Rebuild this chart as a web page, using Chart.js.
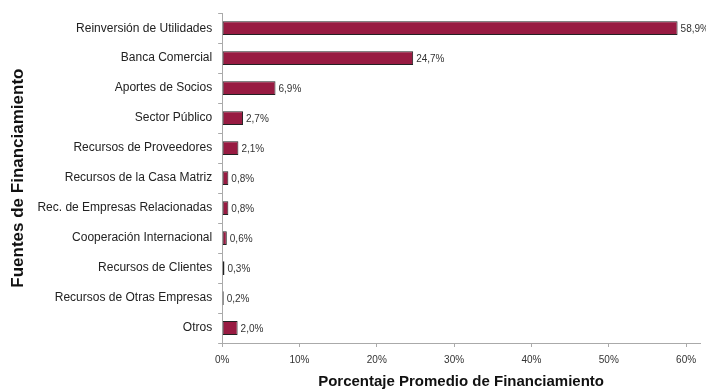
<!DOCTYPE html>
<html>
<head>
<meta charset="utf-8">
<script src="https://cdn.jsdelivr.net/npm/chart.js@4/dist/chart.umd.min.js"></script>
<style>
  html, body { margin: 0; padding: 0; background: #fff; }
  #wrap { width: 706px; height: 389px; }
</style>
</head>
<body>
<div id="wrap"><canvas id="myChart" width="706" height="389"></canvas></div>
<script>
var categories = [
    'Reinversión de Utilidades',
    'Banca Comercial',
    'Aportes de Socios',
    'Sector Público',
    'Recursos de Proveedores',
    'Recursos de la Casa Matriz',
    'Rec. de Empresas Relacionadas',
    'Cooperación Internacional',
    'Recursos de Clientes',
    'Recursos de Otras Empresas',
    'Otros'
]
var porcentajes = [58.9, 24.7, 6.9, 2.7, 2.1, 0.8, 0.8, 0.6, 0.3, 0.2, 2.0]
var x_ticks = [0, 10, 20, 30, 40, 50, 60]

// writes "58,9%" style text at the end of each bar
var valueLabels = {
    id: 'valueLabels',
    afterDatasetsDraw: function (chart) {
        var ctx = chart.ctx
        var meta = chart.getDatasetMeta(0)
        ctx.save()
        ctx.font = '10px "Liberation Sans", Arial, sans-serif'
        ctx.fillStyle = '#333'
        ctx.textBaseline = 'middle'
        ctx.textAlign = 'left'
        meta.data.forEach(function (bar, i) {
            var txt = porcentajes[i].toFixed(1).replace('.', ',') + '%'
            ctx.fillText(txt, bar.x + 3, bar.y + 1)
        })
        ctx.restore()
    }
}

let myChart = document.getElementById('myChart').getContext('2d')
let fuentesChart = new Chart(myChart, {
    type: 'bar',
    data: {
        labels: categories,
        datasets: [{
            data: porcentajes,
            backgroundColor: '#981b42',
            borderColor: '#222',
            borderWidth: 1,
            borderSkipped: false,
            barPercentage: 0.46,
            categoryPercentage: 1.0
        }]
    },
    options: {
        indexAxis: 'y',
        responsive: false,
        animation: false,
        layout: { padding: { top: 13, right: 6, bottom: -2, left: 8 } },
        plugins: {
            legend: { display: false },
            tooltip: { enabled: false }
        },
        scales: {
            x: {
                min: 0,
                max: 61.8,
                afterBuildTicks: function (axis) {
                    axis.ticks = x_ticks.map(function (v) { return { value: v } })
                },
                grid: {
                    drawOnChartArea: false,
                    drawTicks: true,
                    tickLength: 4,
                    color: '#aaa'
                },
                border: { color: '#aaa' },
                ticks: {
                    color: '#333',
                    padding: 7,
                    font: { family: '"Liberation Sans", Arial, sans-serif', size: 10 },
                    callback: function (v) { return v + '%' }
                },
                title: {
                    display: true,
                    text: 'Porcentaje Promedio de Financiamiento',
                    color: '#111',
                    font: { family: '"Liberation Sans", Arial, sans-serif', size: 15, weight: 'bold' },
                    padding: { top: 0, bottom: 0 }
                }
            },
            y: {
                grid: {
                    drawOnChartArea: false,
                    drawTicks: true,
                    tickLength: 4,
                    offset: true,
                    color: '#aaa'
                },
                border: { color: '#aaa' },
                ticks: {
                    color: '#222',
                    padding: 6,
                    font: { family: '"Liberation Sans", Arial, sans-serif', size: 12 }
                },
                title: {
                    display: true,
                    text: 'Fuentes de Financiamiento',
                    color: '#111',
                    font: { family: '"Liberation Sans", Arial, sans-serif', size: 17, weight: 'bold' },
                    padding: { top: 0, bottom: 3 }
                }
            }
        }
    },
    plugins: [valueLabels]
});
</script>
</body>
</html>
